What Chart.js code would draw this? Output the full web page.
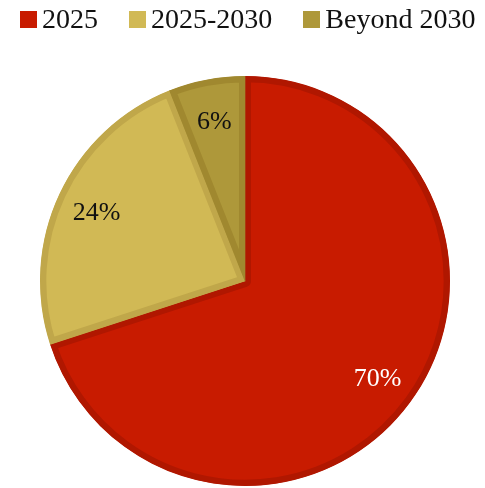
<!DOCTYPE html>
<html>
<head>
<meta charset="utf-8">
<script src="https://cdn.jsdelivr.net/npm/chart.js@4.4.1/dist/chart.umd.min.js"></script>
<style>
  html, body { margin: 0; padding: 0; background: #fff; }
  #wrap { position: relative; width: 485px; height: 488px; }
  #legend {
    position: absolute; top: 5px; left: 20px;
    display: flex; gap: 31px;
    font-family: "Liberation Serif", serif; font-size: 28px; line-height: 28px; color: #111;
  }
  #legend .item { display: flex; align-items: center; gap: 5px; white-space: nowrap; }
  #legend .box { width: 17px; height: 17px; display: inline-block; }
</style>
</head>
<body>
<div id="wrap">
  <div id="legend"></div>
  <canvas id="piechart" width="485" height="488"></canvas>
</div>
<script>
var labels = ['2025', '2025-2030', 'Beyond 2030'];
var shares = [70, 24, 6];
var fillColors = ['#c81b00', '#d1b955', '#ae983a'];
var edgeColors = ['#b01700', '#c0a74a', '#a0882f'];
var labelColors = ['#ffffff', '#111111', '#111111'];

// legend row above the pie
var legend = document.getElementById('legend');
labels.forEach(function (name, i) {
  var item = document.createElement('span');
  item.className = 'item';
  var box = document.createElement('span');
  box.className = 'box';
  box.style.background = fillColors[i];
  item.appendChild(box);
  item.appendChild(document.createTextNode(name));
  legend.appendChild(item);
});

// percentage text inside each slice, digits centred on the spot
var sliceLabels = {
  id: 'sliceLabels',
  afterDatasetsDraw: function (chart) {
    var ctx = chart.ctx;
    var meta = chart.getDatasetMeta(0);
    ctx.save();
    ctx.font = '26px "Liberation Serif", serif';
    ctx.textAlign = 'center';
    ctx.textBaseline = 'alphabetic';
    meta.data.forEach(function (arc, i) {
      var p = arc.getProps(['x', 'y', 'startAngle', 'endAngle', 'outerRadius'], true);
      var mid = (p.startAngle + p.endAngle) / 2;
      var r = p.outerRadius * 0.8;
      ctx.fillStyle = labelColors[i];
      ctx.fillText(shares[i] + '%', p.x + Math.cos(mid) * r, p.y + Math.sin(mid) * r + 9);
    });
    ctx.restore();
  }
};

var chart = new Chart(document.getElementById('piechart'), {
  type: 'pie',
  data: {
    labels: labels,
    datasets: [{
      data: shares,
      backgroundColor: fillColors,
      borderColor: edgeColors,
      borderWidth: 6,
      borderAlign: 'inner'
    }]
  },
  options: {
    responsive: false,
    animation: false,
    events: [],
    layout: {
      padding: { top: 76, left: 5, right: 0, bottom: 2 }
    },
    plugins: {
      legend: { display: false },
      tooltip: { enabled: false }
    }
  },
  plugins: [sliceLabels]
});
</script>
</body>
</html>
